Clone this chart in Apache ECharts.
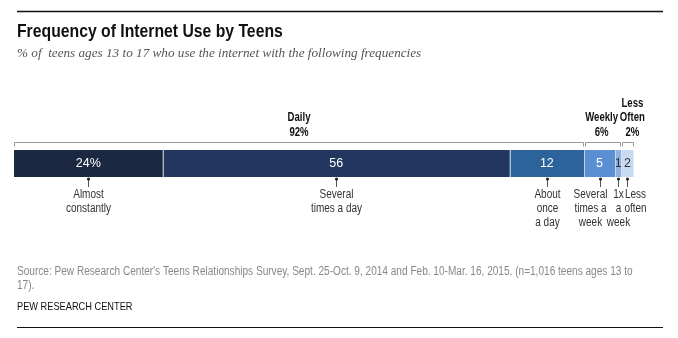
<!DOCTYPE html>
<html>
<head>
<meta charset="utf-8">
<script src="https://cdn.jsdelivr.net/npm/echarts@6/dist/echarts.min.js"></script>
<style>
  html, body { margin: 0; padding: 0; background: #fff; }
  #chart { width: 678px; height: 338px; }
</style>
</head>
<body>
<div id="chart"></div>
<script>
// Share of teens by how often they go online (percent)
const categories = ['Almost constantly', 'Several times a day', 'About once a day', 'Several times a week', '1x a week', 'Less often'];
const categoryLabels = ['Almost\nconstantly', 'Several\ntimes a day', 'About\nonce\na day', 'Several\ntimes a\nweek', '1x\na\nweek', 'Less\noften'];
const values = [24, 56, 12, 5, 1, 2];
const valueLabels = ['24%', '56', '12', '5', '1', '2'];

// Summary groups: which segments each bracket spans, and the stated total
const groupNames = ['Daily', 'Weekly', 'Less\nOften'];
const groupSegments = [[0, 2], [3, 4], [5, 5]];
const groupTotals = ['92%', '6%', '2%'];

// Styling (kept apart from the data)
const segmentColors = ['#1b2842', '#22365f', '#2c639b', '#5b8fd3', '#8eb1e3', '#c8dbf2'];
const valueLabelColors = ['#fff', '#fff', '#fff', '#fff', '#333', '#333'];
const categoryLabelShift = [0, 0, 0, -10, 0, 8];
const groupLabelShift = [0, -1, 5];

const SANS = "'Liberation Sans', Arial, sans-serif";
const NARROW = 0.8; // horizontal squeeze giving a condensed face

// cumulative start/end of every segment
const starts = [];
const ends = [];
values.reduce((acc, v, i) => { starts[i] = acc; ends[i] = acc + v; return acc + v; }, 0);

const barSeries = values.map((v, i) => ({
  name: categories[i],
  type: 'bar',
  stack: 'all',
  barWidth: '100%',
  data: [v],
  itemStyle: { color: segmentColors[i] },
  label: {
    show: true,
    position: 'inside',
    formatter: valueLabels[i],
    color: valueLabelColors[i],
    fontFamily: SANS,
    fontSize: 12.5
  },
  silent: true
}));

// thin light dividers between segments
const dividerSeries = {
  type: 'custom',
  silent: true,
  z: 5,
  data: ends.slice(0, -1).map(e => [e, 0]),
  renderItem: function (params, api) {
    const p = api.coord([api.value(0), 0]);
    const h = api.size([0, 1])[1];
    return {
      type: 'line',
      shape: { x1: Math.round(p[0]) + 0.5, y1: p[1] - h / 2, x2: Math.round(p[0]) + 0.5, y2: p[1] + h / 2 },
      style: { stroke: 'rgba(220,225,235,0.75)', lineWidth: 1 }
    };
  }
};

// pointer and category text under each segment
const pointerSeries = {
  type: 'custom',
  silent: true,
  z: 6,
  data: values.map((v, i) => [starts[i] + v / 2, 0, i]),
  renderItem: function (params, api) {
    const i = api.value(2);
    const p = api.coord([api.value(0), 0]);
    const h = api.size([0, 1])[1];
    const x = Math.round(p[0]) + 0.5;
    const yb = p[1] + h / 2;
    return {
      type: 'group',
      children: [
        { type: 'line', shape: { x1: x, y1: yb + 1, x2: x, y2: yb + 10 }, style: { stroke: '#555', lineWidth: 1 } },
        { type: 'circle', shape: { cx: x, cy: yb + 2, r: 1.6 }, style: { fill: '#222' } },
        {
          type: 'text',
          x: x + categoryLabelShift[i],
          y: yb + 11,
          scaleX: NARROW,
          style: {
            text: categoryLabels[i],
            align: 'center',
            verticalAlign: 'top',
            fill: '#333',
            fontFamily: SANS,
            fontSize: 12.5,
            lineHeight: 14
          }
        }
      ]
    };
  }
};

// brackets above the bar with group names and totals
const bracketSeries = {
  type: 'custom',
  silent: true,
  z: 6,
  data: groupSegments.map((g, k) => [starts[g[0]], ends[g[1]], k]),
  renderItem: function (params, api) {
    const k = api.value(2);
    const a = api.coord([api.value(0), 0]);
    const b = api.coord([api.value(1), 0]);
    const h = api.size([0, 1])[1];
    const yTop = a[1] - h / 2;
    const yl = Math.round(yTop - 8) + 0.5;
    const x1 = Math.round(a[0]) + (k === 0 ? 0.5 : 1.5);
    const x2 = Math.round(b[0]) - 0.5;
    const cx = (a[0] + b[0]) / 2 + groupLabelShift[k];
    return {
      type: 'group',
      children: [
        {
          type: 'polyline',
          shape: { points: [[x1, yl + 4], [x1, yl], [x2, yl], [x2, yl + 4]] },
          style: { stroke: '#999', lineWidth: 1, fill: null }
        },
        {
          type: 'text',
          x: cx,
          y: yl - 3,
          scaleX: NARROW,
          style: {
            text: groupNames[k] + '\n' + groupTotals[k],
            align: 'center',
            verticalAlign: 'bottom',
            fill: '#111',
            fontFamily: SANS,
            fontWeight: 'bold',
            fontSize: 12,
            lineHeight: 14.5
          }
        }
      ]
    };
  }
};

const chart = echarts.init(document.getElementById('chart'), null, { renderer: 'canvas' });
chart.setOption({
  animation: false,
  backgroundColor: '#fff',
  grid: { left: 14, right: 44.4, top: 150, height: 27 },
  xAxis: { type: 'value', min: 0, max: 100, show: false },
  yAxis: { type: 'category', data: ['Teens'], show: false },
  series: barSeries.concat([dividerSeries, pointerSeries, bracketSeries]),
  graphic: [
    { type: 'line', shape: { x1: 17, y1: 11.5, x2: 663, y2: 11.5 }, style: { stroke: '#111', lineWidth: 1.5 } },
    {
      type: 'text', x: 17, y: 23.5, scaleX: 0.9,
      style: { text: 'Frequency of Internet Use by Teens', fill: '#111', fontFamily: SANS, fontWeight: 'bold', fontSize: 17.5, align: 'left', verticalAlign: 'top' }
    },
    {
      type: 'text', x: 17, y: 47,
      style: { text: '% of  teens ages 13 to 17 who use the internet with the following frequencies', fill: '#555', fontFamily: "'Liberation Serif', 'DejaVu Serif', serif", fontStyle: 'italic', fontSize: 13.2, align: 'left', verticalAlign: 'top' }
    },
    {
      type: 'text', x: 17, y: 265, scaleX: 0.84,
      style: {
        text: "Source: Pew Research Center's Teens Relationships Survey, Sept. 25-Oct. 9, 2014 and Feb. 10-Mar. 16, 2015. (n=1,016 teens ages 13 to\n17).",
        fill: '#888', fontFamily: SANS, fontSize: 12, lineHeight: 13.5, align: 'left', verticalAlign: 'top'
      }
    },
    {
      type: 'text', x: 17, y: 301, scaleX: 0.84,
      style: { text: 'PEW RESEARCH CENTER', fill: '#111', fontFamily: SANS, fontSize: 11, align: 'left', verticalAlign: 'top' }
    },
    { type: 'line', shape: { x1: 17, y1: 327.5, x2: 663, y2: 327.5 }, style: { stroke: '#111', lineWidth: 1 } }
  ]
});
</script>
</body>
</html>
